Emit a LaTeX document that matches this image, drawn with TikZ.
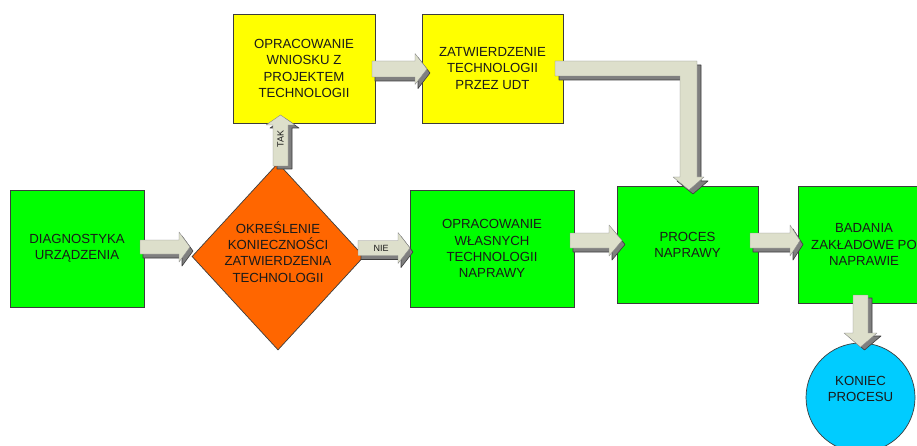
\documentclass[tikz,border=0pt]{standalone}
\usepackage{fontspec}
\setmainfont{Liberation Sans}
\usetikzlibrary{shapes.geometric}
\definecolor{boxgreen}{HTML}{00FF00}
\definecolor{boxyellow}{HTML}{FFFF00}
\definecolor{boxorange}{HTML}{FF6600}
\definecolor{boxcyan}{HTML}{00CCFF}
\definecolor{arrfront}{HTML}{DDDFCB}
\definecolor{arrdark}{HTML}{7F7F7F}
\definecolor{edgec}{HTML}{3C3C3C}
\definecolor{txtc}{HTML}{1A1A1A}
\newcommand\boxfont{\fontsize{13.2}{16.2}\selectfont}
\newcommand\smallfont{\fontsize{9}{10}\selectfont}
% right arrow: x0, tip, yc, half shaft, half head, head length
\newcommand\rarrow[6]{%
 \filldraw[arrshade,shift={(3,4)}] (#1,{#3-#4}) -- ({#2-#6},{#3-#4}) -- ({#2-#6},{#3-#5}) -- (#2,#3) -- ({#2-#6},{#3+#5}) -- ({#2-#6},{#3+#4}) -- (#1,{#3+#4}) -- cycle;
 \filldraw[arrface] (#1,{#3-#4}) -- ({#2-#6},{#3-#4}) -- ({#2-#6},{#3-#5}) -- (#2,#3) -- ({#2-#6},{#3+#5}) -- ({#2-#6},{#3+#4}) -- (#1,{#3+#4}) -- cycle;}
% vertical arrow: y0, tip, xc, half shaft, half head, head base
\newcommand\varrow[6]{%
 \filldraw[arrshade,shift={(4,3)}] ({#3-#4},#1) -- ({#3+#4},#1) -- ({#3+#4},#6) -- ({#3+#5},#6) -- (#3,#2) -- ({#3-#5},#6) -- ({#3-#4},#6) -- cycle;
 \filldraw[arrface] ({#3-#4},#1) -- ({#3+#4},#1) -- ({#3+#4},#6) -- ({#3+#5},#6) -- (#3,#2) -- ({#3-#5},#6) -- ({#3-#4},#6) -- cycle;}
\tikzset{
 arrshade/.style={fill=arrdark, draw=edgec, line width=0.6pt, line join=round},
 arrface/.style={fill=arrfront, draw=edgec!60, line width=0.4pt, line join=round},
 procbox/.style={draw=edgec, line width=0.7pt, inner sep=0pt, align=center, font=\boxfont, text=txtc},
 lbl/.style={inner sep=0pt, align=center, font=\boxfont, text=txtc},
}
\begin{document}
\begin{tikzpicture}[x=1pt,y=-1pt]
\useasboundingbox (0,0) rectangle (917,446);
\clip (0,0) rectangle (917,446);
% boxes
\node[procbox, fill=boxgreen, minimum width=134pt, minimum height=117pt] (diag) at (77,248.5) {DIAGNOSTYKA\\URZĄDZENIA};
\node[procbox, fill=boxorange, shape=diamond, minimum width=172pt, minimum height=187pt] (decide) at (278,256.5) {};
\node[lbl] (decidetxt) at (278,252) {OKREŚLENIE\\KONIECZNOŚCI\\ZATWIERDZENIA\\TECHNOLOGII};
\node[procbox, fill=boxyellow, minimum width=142pt, minimum height=109pt] (wniosek) at (304,68.5) {OPRACOWANIE\\WNIOSKU Z\\PROJEKTEM\\TECHNOLOGII};
\node[procbox, fill=boxyellow, minimum width=141pt, minimum height=109pt] (udt) at (492.5,68.5) {ZATWIERDZENIE\\TECHNOLOGII\\PRZEZ UDT};
\node[procbox, fill=boxgreen, minimum width=164pt, minimum height=117pt] (wlasne) at (492,248.5) {OPRACOWANIE\\WŁASNYCH\\TECHNOLOGII\\NAPRAWY};
\node[procbox, fill=boxgreen, minimum width=141pt, minimum height=117pt] (proces) at (687.5,244.5) {PROCES\\NAPRAWY};
\node[procbox, fill=boxgreen, minimum width=132pt, minimum height=117pt] (badania) at (864,244.5) {BADANIA\\ZAKŁADOWE PO\\NAPRAWIE};
\node[procbox, fill=boxcyan, shape=circle, minimum size=109pt] (koniec) at (860.5,397.5) {};
\node[lbl] (koniectxt) at (860.5,389) {KONIEC\\PROCESU};
% arrows
\rarrow{140}{190}{247}{7}{15}{11}
\rarrow{358}{410}{248}{7.5}{15.5}{12}
\node[inner sep=0pt, font=\smallfont, text=txtc] (nie) at (381,248) {NIE};
\rarrow{570}{622}{240.5}{7.5}{15.5}{13}
\rarrow{750}{800}{240.5}{7.5}{15.5}{10}
\rarrow{372}{427}{69}{8}{15.5}{12}
\varrow{166}{115}{280.5}{7.5}{14.5}{125}
\node[rotate=90, inner sep=0pt, font=\smallfont, text=txtc] (tak) at (280.5,139) {TAK};
\varrow{295}{347}{860.5}{7.5}{16.5}{333}
% bent arrow from udt to proces
\filldraw[arrshade,shift={(4,4)}] (555,61) -- (697,61) -- (697,177) -- (704,177) -- (689,190) -- (673,177) -- (680,177) -- (680,76) -- (555,76) -- cycle;
\filldraw[arrface] (555,61) -- (697,61) -- (697,177) -- (704,177) -- (689,190) -- (673,177) -- (680,177) -- (680,76) -- (555,76) -- cycle;
\end{tikzpicture}
\end{document}
